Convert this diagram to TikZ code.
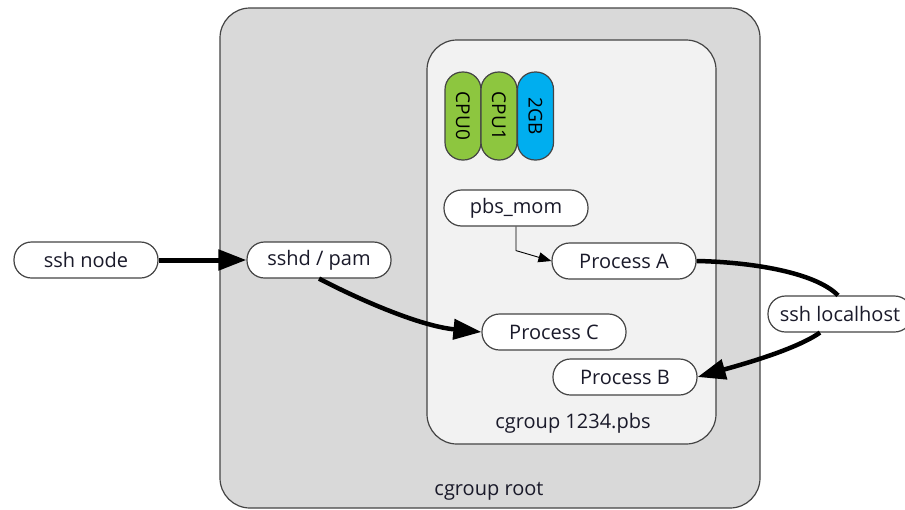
\documentclass[tikz,border=0pt]{standalone}
\usepackage{fontspec}
\setmainfont{Open Sans}
\usetikzlibrary{arrows.meta}
\definecolor{cpugreen}{HTML}{8DC63F}
\definecolor{memblue}{HTML}{00AEEF}
\definecolor{rootgray}{HTML}{D9D9D9}
\definecolor{pbsgray}{HTML}{F2F2F2}
\definecolor{edgegray}{HTML}{444444}
\definecolor{textdark}{HTML}{1A1A2A}
\tikzset{
    proc/.style={draw=edgegray, line width=1.2pt, fill=white, rounded corners=17.5pt, text=textdark,
        minimum width=144pt, minimum height=36pt, inner sep=0pt, font=\fontsize{20}{23}\selectfont},
    res/.style={draw=edgegray, line width=1.2pt, rounded corners=17.5pt, minimum width=88pt,
        minimum height=36pt, inner sep=0pt, rotate=-90, font=\fontsize{19}{21}\selectfont},
    group/.style={draw=edgegray, line width=1.2pt, rounded corners=30pt},
    bigarrow/.style={line width=5pt, -{Triangle[length=28pt,width=20pt]}},
    link/.style={line width=4.5pt},
}
\begin{document}
\begin{tikzpicture}[x=1pt, y=-1pt]
    \useasboundingbox (0,0) rectangle (905,509);

    % Cgroups
    \draw[group, fill=rootgray] (220,8) rectangle (760,508);
    \draw[group, fill=pbsgray] (427,40) rectangle (716,444);
    \node[text=textdark, font=\fontsize{20}{23}\selectfont] (rootlabel) at (489,491) {cgroup root};
    \node[text=textdark, font=\fontsize{20}{23}\selectfont] (pbslabel) at (573,423) {cgroup 1234.pbs};

    % Resources
    \node[res, fill=cpugreen] (cpu0) at (463,116) {CPU0};
    \node[res, fill=cpugreen] (cpu1) at (499,116) {CPU1};
    \node[res, fill=memblue] (mem) at (535.5,116) {2GB};

    % Processes
    \node[proc] (sshnode) at (86,260) {ssh node};
    \node[proc] (sshd) at (319,260) {sshd / pam};
    \node[proc] (mom) at (516,208) {pbs\_mom};
    \node[proc] (procA) at (624,261) {Process A};
    \node[proc] (procC) at (554,332) {Process C};
    \node[proc] (procB) at (625,377) {Process B};
    \node[proc] (sshlocal) at (840,314) {ssh localhost};

    % Connections
    \draw[bigarrow] (sshnode) -- (sshd);
    \draw[bigarrow, line width=4.5pt] (sshd.south) .. controls (360,300) and (420,326) .. (procC.west);
    \draw[line width=0.9pt, -{Triangle[length=13pt,width=10pt]}] (mom.south) -- ++(0,24) -- (procA.west);
    \draw[link] (procA.east) .. controls (750,262) and (815,272) .. ([xshift=-2pt]sshlocal.north);
    \draw[bigarrow, line width=4.5pt] ([xshift=-20pt]sshlocal.south) .. controls (795,350) and (740,365) .. (procB.east);
\end{tikzpicture}
\end{document}
